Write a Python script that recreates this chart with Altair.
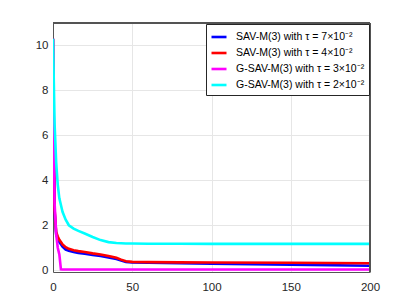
import altair as alt
import pandas as pd

x_vals = [0, 1, 2, 3, 4, 5, 6, 8, 10, 13, 16, 20, 25, 30, 35, 40, 43, 46, 50, 60, 80, 100, 150, 200]

blue_vals = [10.3, 2.6, 1.6, 1.4, 1.25, 1.15, 1.05, 0.92, 0.86, 0.81, 0.77, 0.73, 0.68, 0.63, 0.57, 0.5, 0.43, 0.37, 0.34, 0.33, 0.31, 0.29, 0.25, 0.20]
red_vals = [10.3, 2.7, 1.7, 1.5, 1.35, 1.25, 1.15, 1.02, 0.95, 0.89, 0.85, 0.81, 0.75, 0.70, 0.63, 0.55, 0.47, 0.40, 0.37, 0.36, 0.35, 0.34, 0.33, 0.31]
magenta_vals = [10.3, 3.0, 1.6, 1.0, 0.7, 0.04, 0.03, 0.03, 0.03, 0.03, 0.03, 0.03, 0.03, 0.03, 0.03, 0.03, 0.03, 0.03, 0.03, 0.03, 0.03, 0.03, 0.03, 0.03]
cyan_vals = [10.3, 6.5, 4.8, 3.8, 3.2, 2.9, 2.6, 2.25, 2.0, 1.85, 1.75, 1.63, 1.48, 1.34, 1.25, 1.21, 1.2, 1.19, 1.19, 1.18, 1.18, 1.17, 1.17, 1.17]

series_names = [
    "SAV-M(3) with τ = 7×10⁻²",
    "SAV-M(3) with τ = 4×10⁻²",
    "G-SAV-M(3) with τ = 3×10⁻²",
    "G-SAV-M(3) with τ = 2×10⁻²",
]
series_colors = ["#0000ff", "#ff0000", "#ff00ff", "#00ffff"]
series_values = [blue_vals, red_vals, magenta_vals, cyan_vals]

rows = []
for i, (name, vals) in enumerate(zip(series_names, series_values)):
    for xv, yv in zip(x_vals, vals):
        rows.append({"x": xv, "y": yv, "series": name, "order": i})
df = pd.DataFrame(rows)

frame_color = "#555555"

xscale = alt.Scale(domain=[0, 200], nice=False)
yscale = alt.Scale(domain=[-0.08, 11], nice=False, zero=False)

lines = alt.Chart(df).mark_line(strokeWidth=2.6, clip=True).encode(
    x=alt.X("x:Q", scale=xscale,
            axis=alt.Axis(values=[0, 50, 100, 150, 200], title=None)),
    y=alt.Y("y:Q", scale=yscale,
            axis=alt.Axis(values=[0, 2, 4, 6, 8, 10], title=None)),
    color=alt.Color("series:N",
                    scale=alt.Scale(domain=series_names, range=series_colors),
                    sort=series_names,
                    legend=alt.Legend(title=None, orient="top-right", offset=1,
                                      symbolType="stroke", symbolSize=225,
                                      symbolStrokeWidth=2.6, labelFontSize=10.5,
                                      labelFont="Liberation Sans", labelColor="#000000",
                                      strokeColor="#262626", fillColor="white",
                                      padding=4, rowPadding=1, labelLimit=300,
                                      labelOffset=8)),
    order=alt.Order("order:Q"),
    detail="series:N",
)

top_rule = alt.Chart(df).mark_rule(stroke=frame_color, strokeWidth=1).encode(
    x=alt.value(0), x2=alt.value(317), y=alt.value(0)
)
right_rule = alt.Chart(df).mark_rule(stroke=frame_color, strokeWidth=1).encode(
    x=alt.value(317), y=alt.value(0), y2=alt.value(249)
)

chart = alt.layer(lines, top_rule, right_rule).properties(
    width=317, height=249,
    autosize=alt.AutoSizeParams(type="none"),
    padding={"left": 45, "top": 15, "right": 20, "bottom": 30},
).configure_view(
    stroke=None
).configure_axis(
    grid=True, gridColor="#e6e6e6", gridWidth=1,
    domain=True, domainColor=frame_color, domainWidth=1,
    ticks=False, labelFlush=False,
    labelFont="Liberation Sans", labelFontSize=11.5, labelColor="#262626",
    labelPadding=5,
).configure_axisX(labelPadding=9)

chart.save("out.html", embed_options={"renderer": "svg", "actions": False})
